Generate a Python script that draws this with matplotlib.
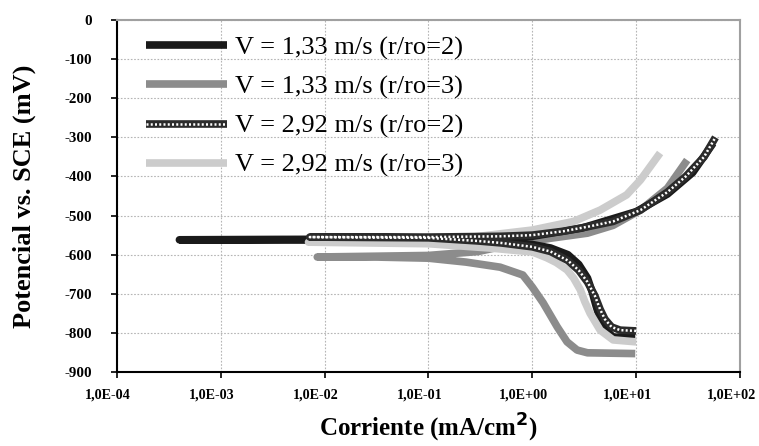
import matplotlib
matplotlib.use("Agg")
import matplotlib.pyplot as plt
import matplotlib.transforms as mtransforms
from matplotlib.legend_handler import HandlerTuple

plt.rcParams['font.family'] = ['Liberation Serif', 'DejaVu Serif']

# curvas de polarizacion (corriente mA/cm2, potencial mV vs SCE)
i_133_r2 = [9.8, 6.0, 5.0, 4.5, 4.1, 3.8, 3.4, 2.8, 2.2, 1.5, 1.0, 0.3, 0.05, 0.004, 0.0004,
            0.004, 0.05, 0.3, 1.0, 3.0, 10, 20, 35, 55]
E_133_r2 = [-811, -811, -790, -765, -730, -698, -660, -625, -600, -583, -574, -565, -563, -562, -562,
            -561, -560, -558, -553, -532, -490, -445, -390, -315]

i_133_r3 = [9.8, 3.4, 2.7, 2.16, 1.74, 1.27, 1.0, 0.81, 0.49, 0.23, 0.1, 0.03, 0.0085,
            0.03, 0.1, 0.3, 0.6, 1.5, 3.4, 6, 11, 20, 31]
E_133_r3 = [-853, -851, -844, -823, -785, -723, -683, -652, -632, -619, -609, -606, -606,
            -604, -602, -592, -575, -558, -545, -525, -486, -430, -358]

i_292_r2 = [10, 7, 5.8, 5.0, 4.5, 4.0, 3.4, 2.8, 2.2, 1.5, 1.0, 0.5, 0.3, 0.1, 0.0072,
            0.1, 0.5, 1.0, 2, 3.5, 6, 11, 20, 30, 45, 58]
E_292_r2 = [-795, -793, -785, -765, -740, -705, -670, -640, -615, -592, -580, -570, -565, -557, -555,
            -555, -553, -550, -540, -528, -515, -486, -440, -400, -350, -300]

i_292_r3 = [10, 6.0, 4.5, 3.6, 3.2, 2.9, 2.5, 2.16, 1.7, 1.38, 1.0, 0.39, 0.1, 0.007,
            0.1, 0.23, 1.0, 2.5, 4.5, 8.1, 11, 17]
E_292_r3 = [-823, -818, -793, -750, -720, -690, -660, -639, -620, -608, -593, -583, -572, -568,
            -565, -557, -537, -515, -486, -447, -409, -340]

labels = ["V = 1,33 m/s (r/ro=2)", "V = 1,33 m/s (r/ro=3)",
          "V = 2,92 m/s (r/ro=2)", "V = 2,92 m/s (r/ro=3)"]
xticks = [1e-4, 1e-3, 1e-2, 1e-1, 1e0, 1e1, 1e2]
xticklabels = ["1,0E-04", "1,0E-03", "1,0E-02", "1,0E-01", "1,0E+00", "1,0E+01", "1,0E+02"]
yticks = [0, -100, -200, -300, -400, -500, -600, -700, -800, -900]

fig = plt.figure(figsize=(7.59, 4.46), dpi=100)
ax = fig.add_axes([0.154, 0.166, 0.821, 0.789])

l1, = ax.plot(i_133_r2, E_133_r2, color="#1a1a1a", lw=5.5, solid_capstyle="butt", zorder=3)
l2, = ax.plot(i_133_r3, E_133_r3, color="#8c8c8c", lw=5.5, solid_capstyle="butt", zorder=2)
l4, = ax.plot(i_292_r3, E_292_r3, color="#cccccc", lw=5.5, solid_capstyle="butt", zorder=4)
l3a, = ax.plot(i_292_r2, E_292_r2, color="#2b2b2b", lw=5.5, solid_capstyle="butt", zorder=5)
l3b, = ax.plot(i_292_r2, E_292_r2, color="white", lw=1.8, ls=(0, (0.8, 0.9)), zorder=6)

ax.set_xscale("log")
ax.set_xlim(1e-4, 1e2)
ax.set_ylim(-900, 0)
ax.set_xticks(xticks)
ax.set_xticklabels(xticklabels)
ax.minorticks_off()
ax.set_yticks(yticks)
ax.set_yticklabels([str(v) for v in yticks])
ax.tick_params(axis="x", pad=8, length=4, width=1.2, direction="out")
ax.tick_params(axis="y", pad=14, length=4, width=1.2, direction="out")
for lab in ax.get_xticklabels():
    lab.set_fontweight("bold")
    lab.set_fontsize(10.2)
for lab in ax.get_yticklabels():
    lab.set_fontweight("bold")
    lab.set_fontsize(10.8)

ax.grid(True, color="#b5b5b5", ls=(0, (1.5, 1.5)), lw=0.8)
ax.set_axisbelow(True)
ax.spines["left"].set_linewidth(1.5)
ax.spines["bottom"].set_linewidth(1.5)
for s in ["top", "right"]:
    ax.spines[s].set_color("#a0a0a0")
    ax.spines[s].set_linewidth(1.5)

ax.set_xlabel("Corriente (mA/cm$^{\\mathbf{2}}$)", fontsize=18, fontweight="bold")
ax.xaxis.set_label_coords(0.5, -0.115)
ax.set_ylabel("Potencial vs. SCE (mV)", fontsize=19, fontweight="bold")
ax.yaxis.set_label_coords(-0.148, 0.5)
ax.yaxis.label.set_va("center")

ax.legend([l1, l2, (l3a, l3b), l4], labels, loc="upper left", bbox_to_anchor=(0.022, 1.0),
          frameon=False, fontsize=19, handlelength=3.07, handletextpad=0.27,
          labelspacing=0.58, borderaxespad=0.2,
          handler_map={tuple: HandlerTuple(ndivide=1, pad=0)})

# las etiquetas del eje x van algo corridas a la izquierda
fig.canvas.draw()
shift = mtransforms.ScaledTranslation(-9 / 100, 0, fig.dpi_scale_trans)
for lab in ax.get_xticklabels():
    lab.set_transform(lab.get_transform() + shift)

fig.savefig("out.png", dpi=100)
